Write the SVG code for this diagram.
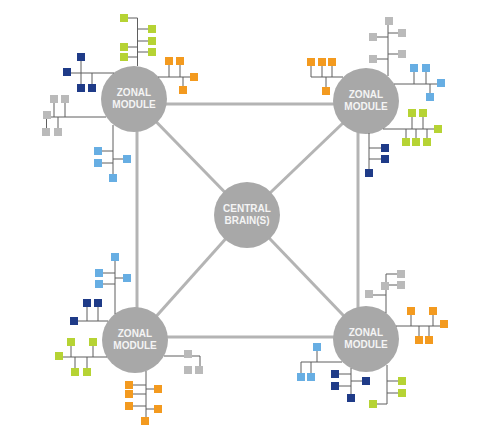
<svg xmlns="http://www.w3.org/2000/svg" width="485" height="438" viewBox="0 0 485 438">
<defs>
<style>
.link{stroke:#b4b4b4;stroke-width:3;fill:none}
.bus{stroke:#5f5f5f;stroke-width:1;fill:none}
.hub{fill:#a8a8a8}
.lbl{font-family:"Liberation Sans",Arial,sans-serif;font-weight:bold;font-size:10px;fill:#f4f4f4;text-anchor:middle}
.lm{fill:#b6d334}
.nv{fill:#1f3b88}
.or{fill:#f39a1f}
.lb{fill:#67aee3}
.gy{fill:#bababa}
</style>
<symbol id="sq" viewBox="0 0 8 8" overflow="visible"><rect x="-4" y="-4" width="8" height="8"/></symbol>
</defs>
<rect width="485" height="438" fill="#ffffff"/>

<g id="connectors">
<line class="link" x1="134" y1="104" x2="366" y2="104"/>
<line class="link" x1="134" y1="337" x2="366" y2="337"/>
<line class="link" x1="137" y1="99" x2="137" y2="340"/>
<line class="link" x1="358" y1="101" x2="358" y2="339"/>
<line class="link" x1="134" y1="99" x2="247" y2="215"/>
<line class="link" x1="366" y1="101" x2="247" y2="215"/>
<line class="link" x1="135" y1="340" x2="247" y2="215"/>
<line class="link" x1="366" y1="339" x2="247" y2="215"/>
</g>

<g id="central-brain">
<circle class="hub" cx="247" cy="215" r="33"/>
<text class="lbl" x="247" y="212">CENTRAL</text>
<text class="lbl" x="247" y="224">BRAIN(S)</text>
</g>

<g id="zonal-module-tl">
<circle class="hub" cx="134" cy="99" r="33"/>
<text class="lbl" x="134" y="96">ZONAL</text>
<text class="lbl" x="134" y="108">MODULE</text>
</g>
<g id="zonal-module-tr">
<circle class="hub" cx="366" cy="101" r="33"/>
<text class="lbl" x="366" y="98">ZONAL</text>
<text class="lbl" x="366" y="110">MODULE</text>
</g>
<g id="zonal-module-bl">
<circle class="hub" cx="135" cy="340" r="33"/>
<text class="lbl" x="135" y="337">ZONAL</text>
<text class="lbl" x="135" y="349">MODULE</text>
</g>
<g id="zonal-module-br">
<circle class="hub" cx="366" cy="339" r="33"/>
<text class="lbl" x="366" y="336">ZONAL</text>
<text class="lbl" x="366" y="348">MODULE</text>
</g>

<!-- TL clusters -->
<g id="tl-lime">
<path class="bus" d="M137.5 18V66 M124 18H137.5 M137.5 29H152 M137.5 41H152 M137.5 52H152 M124 47H137.5 M124 57H137.5"/>
<g class="lm"><rect x="120" y="14" width="8" height="8"/><rect x="148" y="25" width="8" height="8"/><rect x="148" y="37" width="8" height="8"/><rect x="148" y="48" width="8" height="8"/><rect x="120" y="43" width="8" height="8"/><rect x="120" y="53" width="8" height="8"/></g>
</g>
<g id="tl-navy">
<path class="bus" d="M67 73H114 M81 57V88 M92 73V88"/>
<g class="nv"><rect x="63" y="68" width="8" height="8"/><rect x="77" y="53" width="8" height="8"/><rect x="77" y="84" width="8" height="8"/><rect x="88" y="84" width="8" height="8"/></g>
</g>
<g id="tl-gray">
<path class="bus" d="M47 117H106 M54 99V117 M65 99V117 M58 117V132 M46.5 115V132"/>
<g class="gy"><rect x="50" y="95" width="8" height="8"/><rect x="61" y="95" width="8" height="8"/><rect x="43" y="111" width="8" height="8"/><rect x="42" y="128" width="8" height="8"/><rect x="54" y="128" width="8" height="8"/></g>
</g>
<g id="tl-blue">
<path class="bus" d="M113 125V178 M98 151H113 M98 163H113 M113 159H127"/>
<g class="lb"><rect x="94" y="147" width="8" height="8"/><rect x="94" y="159" width="8" height="8"/><rect x="123" y="155" width="8" height="8"/><rect x="109" y="174" width="8" height="8"/></g>
</g>
<g id="tl-orange">
<path class="bus" d="M158 77H194 M169 61V77 M180 61V77 M183 77V90"/>
<g class="or"><rect x="165" y="57" width="8" height="8"/><rect x="176" y="57" width="8" height="8"/><rect x="190" y="73" width="8" height="8"/><rect x="179" y="86" width="8" height="8"/></g>
</g>

<!-- TR clusters -->
<g id="tr-gray">
<path class="bus" d="M388 21V76 M373 37H388 M388 33H402 M388 54H402 M373 59H388"/>
<g class="gy"><rect x="385" y="17" width="8" height="8"/><rect x="369" y="33" width="8" height="8"/><rect x="398" y="29" width="8" height="8"/><rect x="398" y="50" width="8" height="8"/><rect x="369" y="55" width="8" height="8"/></g>
</g>
<g id="tr-orange">
<path class="bus" d="M311 77H343 M311 62V77 M322 62V77 M332 62V77 M326 77V91"/>
<g class="or"><rect x="307" y="58" width="8" height="8"/><rect x="318" y="58" width="8" height="8"/><rect x="328" y="58" width="8" height="8"/><rect x="322" y="87" width="8" height="8"/></g>
</g>
<g id="tr-blue">
<path class="bus" d="M394 84H441 M414 68V84 M426 68V84 M430 84V97"/>
<g class="lb"><rect x="410" y="64" width="8" height="8"/><rect x="422" y="64" width="8" height="8"/><rect x="437" y="79" width="8" height="8"/><rect x="426" y="93" width="8" height="8"/></g>
</g>
<g id="tr-lime">
<path class="bus" d="M383 129H438 M412 113V129 M423 113V129 M406 129V142 M416 129V142 M427 129V142"/>
<g class="lm"><rect x="408" y="109" width="8" height="8"/><rect x="419" y="109" width="8" height="8"/><rect x="434" y="125" width="8" height="8"/><rect x="402" y="138" width="8" height="8"/><rect x="412" y="138" width="8" height="8"/><rect x="423" y="138" width="8" height="8"/></g>
</g>
<g id="tr-navy">
<path class="bus" d="M369 133V173 M369 148H385 M369 159H385"/>
<g class="nv"><rect x="381" y="144" width="8" height="8"/><rect x="381" y="155" width="8" height="8"/><rect x="365" y="169" width="8" height="8"/></g>
</g>

<!-- BL clusters -->
<g id="bl-blue">
<path class="bus" d="M115 257V314 M99 273H115 M99 284H115 M115 278H127"/>
<g class="lb"><rect x="111" y="253" width="8" height="8"/><rect x="95" y="269" width="8" height="8"/><rect x="95" y="280" width="8" height="8"/><rect x="123" y="274" width="8" height="8"/></g>
</g>
<g id="bl-navy">
<path class="bus" d="M74 321H108 M87 303V321 M98 303V321"/>
<g class="nv"><rect x="70" y="317" width="8" height="8"/><rect x="83" y="299" width="8" height="8"/><rect x="94" y="299" width="8" height="8"/></g>
</g>
<g id="bl-lime">
<path class="bus" d="M59 357H107 M71 342V357 M93 342V357 M75 357V372 M87 357V372"/>
<g class="lm"><rect x="55" y="352" width="8" height="8"/><rect x="67" y="338" width="8" height="8"/><rect x="89" y="338" width="8" height="8"/><rect x="71" y="368" width="8" height="8"/><rect x="83" y="368" width="8" height="8"/></g>
</g>
<g id="bl-gray">
<path class="bus" d="M164 356H200 M200 356V370"/>
<g class="gy"><rect x="184" y="350" width="8" height="8"/><rect x="184" y="366" width="8" height="8"/><rect x="195" y="366" width="8" height="8"/></g>
</g>
<g id="bl-orange">
<path class="bus" d="M146 371V421 M129 385H146 M129 394H146 M129 406H146 M146 389H158 M146 409H158"/>
<g class="or"><rect x="125" y="381" width="8" height="8"/><rect x="125" y="390" width="8" height="8"/><rect x="125" y="402" width="8" height="8"/><rect x="154" y="385" width="8" height="8"/><rect x="154" y="405" width="8" height="8"/><rect x="141" y="417" width="8" height="8"/></g>
</g>

<!-- BR clusters -->
<g id="br-gray">
<path class="bus" d="M386 274V313 M386 274H401 M386 285H401 M369 295H386"/>
<g class="gy"><rect x="397" y="270" width="8" height="8"/><rect x="397" y="281" width="8" height="8"/><rect x="381" y="282" width="8" height="8"/><rect x="365" y="290" width="8" height="8"/></g>
</g>
<g id="br-orange">
<path class="bus" d="M396 326H444 M411 311V326 M433 311V326 M419 326V340 M429 326V340"/>
<g class="or"><rect x="407" y="307" width="8" height="8"/><rect x="429" y="307" width="8" height="8"/><rect x="440" y="320" width="8" height="8"/><rect x="415" y="336" width="8" height="8"/><rect x="425" y="336" width="8" height="8"/></g>
</g>
<g id="br-blue">
<path class="bus" d="M301 362H342 M317 347V362 M301 362V377 M311 362V377"/>
<g class="lb"><rect x="313" y="343" width="8" height="8"/><rect x="297" y="373" width="8" height="8"/><rect x="307" y="373" width="8" height="8"/></g>
</g>
<g id="br-navy">
<path class="bus" d="M351 368V398 M335 374H351 M335 386H351 M351 381H366"/>
<g class="nv"><rect x="331" y="370" width="8" height="8"/><rect x="331" y="382" width="8" height="8"/><rect x="362" y="377" width="8" height="8"/><rect x="347" y="394" width="8" height="8"/></g>
</g>
<g id="br-lime">
<path class="bus" d="M387 365V404 M387 381H402 M387 393H402 M373 404H387"/>
<g class="lm"><rect x="398" y="377" width="8" height="8"/><rect x="398" y="389" width="8" height="8"/><rect x="369" y="400" width="8" height="8"/></g>
</g>
</svg>
